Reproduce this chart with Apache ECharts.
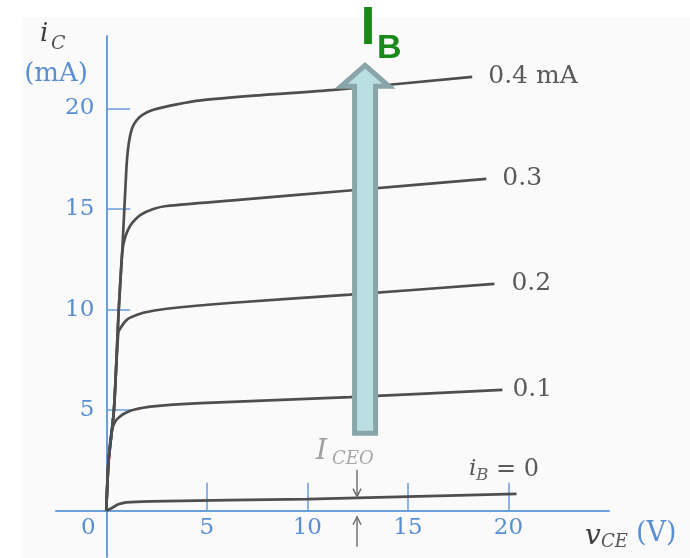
<!DOCTYPE html>
<html>
<head>
<meta charset="utf-8">
<script src="https://cdn.jsdelivr.net/npm/echarts@6/dist/echarts.min.js"></script>
<style>
  html, body { margin: 0; padding: 0; background: #ffffff; }
  #chart { width: 690px; height: 558px; }
</style>
</head>
<body>
<div id="chart"></div>
<script>
// Common-emitter collector characteristics: i_C (mA) against v_CE (V), one curve per base current.
const curveLabels = ['0.4 mA', '0.3', '0.2', '0.1'];

// [v_CE (V), i_C (mA)] points along each curve
const curveIB04 = [[0,0],[0.12,2.5],[0.38,5],[0.62,10],[0.8,13],[1.0,17],[1.11,18.2],[1.28,19.0],[1.5,19.4],[1.8,19.68],[2.34,19.93],[3.5,20.2],[4.7,20.4],[7.6,20.65],[11.3,20.92],[18.2,21.57]];
const curveIB03 = [[0,0],[0.12,2.5],[0.38,5],[0.62,10],[0.8,12.9],[0.94,13.6],[1.1,14.0],[1.28,14.3],[1.69,14.7],[2.34,15.0],[3.0,15.15],[6.3,15.43],[12.1,15.92],[18.9,16.5]];
const curveIB02 = [[0,0],[0.12,2.5],[0.38,5],[0.6,8.85],[0.75,9.15],[0.95,9.42],[1.19,9.6],[1.84,9.84],[3.0,10.04],[6.3,10.34],[12.1,10.74],[19.3,11.28]];
const curveIB01 = [[0,0],[0.1,2.4],[0.28,4.0],[0.45,4.45],[0.7,4.7],[1.0,4.88],[1.36,5.02],[2.2,5.18],[4.7,5.35],[12.1,5.65],[19.7,6.01]];
const curveIB00 = [[0,0],[0.3,0.15],[0.6,0.32],[1.0,0.42],[2.2,0.47],[10,0.58],[15,0.7],[20.4,0.84]];

const xTickValues = [5, 10, 15, 20];
const xLabelValues = [0, 5, 10, 15, 20];
const yTickValues = [5, 10, 15, 20];

// Annotation anchors in data units
const ibArrow = { v: 12.87, from: 3.85, to: 22.14 };       // base-current direction arrow
const iceoMark = { v: 12.47, top: 2.04, tip: 0.7, low: -1.79, lowTip: -0.3 };

const AXIS_BLUE = '#6a9fdc';
const LABEL_BLUE = '#5a8ed3';
const CURVE = '#4e4e4e';
const SERIF = '"DejaVu Serif", "Liberation Serif", serif';

const chart = echarts.init(document.getElementById('chart'), null, { renderer: 'canvas' });

function curveSeries(data, label, dist) {
  return {
    type: 'line',
    data: data,
    showSymbol: false,
    smooth: 0.25,
    lineStyle: { color: CURVE, width: 2.7 },
    emphasis: { disabled: true },
    silent: true,
    z: 3,
    endLabel: label ? {
      show: true,
      formatter: label,
      distance: dist,
      fontFamily: SERIF,
      fontSize: 25,
      color: '#5a5a5a'
    } : { show: false }
  };
}

chart.setOption({
  animation: false,
  backgroundColor: '#ffffff',
  grid: { left: 56, right: 81, top: 36, bottom: 1, outerBoundsMode: 'none', containLabel: false },
  xAxis: {
    type: 'value',
    min: -2.5,
    max: 25,
    axisLine: { onZero: true, lineStyle: { color: AXIS_BLUE, width: 2 } },
    axisTick: { show: true, inside: true, length: 28, customValues: xTickValues, lineStyle: { color: AXIS_BLUE, width: 1.5 } },
    axisLabel: {
      customValues: xLabelValues,
      margin: 6,
      fontFamily: SERIF,
      fontSize: 23,
      color: LABEL_BLUE,
      formatter: v => (v === 0 ? '{z|0}' : String(v)),
      rich: { z: { padding: [0, 36, 0, 0], fontFamily: SERIF, fontSize: 23, color: LABEL_BLUE } }
    },
    splitLine: { show: false }
  },
  yAxis: {
    type: 'value',
    min: -2.3,
    max: 23.6,
    axisLine: { onZero: true, lineStyle: { color: AXIS_BLUE, width: 2 } },
    axisTick: { show: true, inside: true, length: 24, customValues: yTickValues, lineStyle: { color: AXIS_BLUE, width: 1.5 } },
    axisLabel: {
      customValues: yTickValues,
      margin: 12,
      fontFamily: SERIF,
      fontSize: 23,
      color: LABEL_BLUE
    },
    splitLine: { show: false }
  },
  series: [
    curveSeries(curveIB04, curveLabels[0], 16),
    curveSeries(curveIB03, curveLabels[1], 16),
    curveSeries(curveIB02, curveLabels[2], 17),
    curveSeries(curveIB01, curveLabels[3], 10),
    curveSeries(curveIB00, null, 0)
  ]
});

function px(v, i) { return chart.convertToPixel({ gridIndex: 0 }, [v, i]); }

// Keep tick labels beside the axis lines that cross at the origin
const origin = px(0, 0);
const gridRect = chart.getModel().getComponent('grid', 0).coordinateSystem.getRect();
chart.setOption({
  xAxis: { axisLabel: { margin: 6 - (gridRect.y + gridRect.height - origin[1]) } },
  yAxis: { axisLabel: { margin: 12 - (origin[0] - gridRect.x) } }
});

function text(x, y, str, opts) {
  return {
    type: 'text', x: x, y: y, z: 50, silent: true,
    style: Object.assign({ text: str, fontFamily: SERIF, verticalAlign: 'middle', align: 'left' }, opts)
  };
}

// Big arrow showing the direction of increasing base current
const aTip = px(ibArrow.v, ibArrow.to);
const aBot = px(ibArrow.v, ibArrow.from);
const headBaseY = aTip[1] + 21;
const cx = aTip[0];
const shaftHalf = 10.5, headHalf = 24;
const arrowPoly = [
  [cx, aTip[1]],
  [cx + headHalf, headBaseY],
  [cx + shaftHalf, headBaseY],
  [cx + shaftHalf, aBot[1]],
  [cx - shaftHalf, aBot[1]],
  [cx - shaftHalf, headBaseY],
  [cx - headHalf, headBaseY]
];

// Small I_CEO pointer arrows
const d0 = px(iceoMark.v, iceoMark.top), d1 = px(iceoMark.v, iceoMark.tip);
const u0 = px(iceoMark.v, iceoMark.low), u1 = px(iceoMark.v, iceoMark.lowTip);
const arrowStyle = { stroke: '#6a6a6a', lineWidth: 1.4, fill: null };

chart.setOption({
  graphic: [
    { type: 'rect', z: -10, silent: true, shape: { x: 22, y: 17, width: 668, height: 541 }, style: { fill: '#f9faf9' } },
    { type: 'polygon', z: 40, silent: true, shape: { points: arrowPoly }, style: { fill: '#b9dfe3', stroke: '#89a5a8', lineWidth: 5, lineJoin: 'miter' } },
    // I_B label
    text(cx + 3, 29, 'I', { fontFamily: '"Liberation Sans", Arial, sans-serif', fontWeight: 'bold', fontSize: 54, fill: '#198a19', align: 'center' }),
    text(377, 49, 'B', { fontFamily: '"Liberation Sans", Arial, sans-serif', fontWeight: 'bold', fontSize: 34, fill: '#198a19' }),
    // axis titles
    text(40, 34, 'i', { fontStyle: 'italic', fontSize: 26, fill: '#3e3e3e' }),
    text(51, 44, 'C', { fontStyle: 'italic', fontSize: 19, fill: '#555555' }),
    text(56, 74, '(mA)', { fontSize: 26, fill: LABEL_BLUE, align: 'center' }),
    text(585, 537, 'v', { fontStyle: 'italic', fontSize: 28, fill: '#3e3e3e' }),
    text(601, 542, 'CE', { fontStyle: 'italic', fontSize: 18, fill: '#555555' }),
    text(636, 534, '(V)', { fontSize: 27, fill: LABEL_BLUE }),
    // i_B = 0 label
    text(469, 469, 'i', { fontStyle: 'italic', fontSize: 23, fill: '#555555' }),
    text(476, 476, 'B', { fontStyle: 'italic', fontSize: 17, fill: '#666666' }),
    text(496, 470, '= 0', { fontSize: 24, fill: '#5a5a5a' }),
    // I_CEO annotation
    text(316, 452, 'I', { fontStyle: 'italic', fontSize: 28, fill: '#a0a0a0' }),
    text(332, 459, 'CEO', { fontStyle: 'italic', fontSize: 18, fill: '#a8a8a8' }),
    { type: 'polyline', z: 45, silent: true, shape: { points: [d0, d1] }, style: arrowStyle },
    { type: 'polyline', z: 45, silent: true, shape: { points: [[d1[0] - 4, d1[1] - 8], d1, [d1[0] + 4, d1[1] - 8]] }, style: arrowStyle },
    { type: 'polyline', z: 45, silent: true, shape: { points: [u0, u1] }, style: arrowStyle },
    { type: 'polyline', z: 45, silent: true, shape: { points: [[u1[0] - 4, u1[1] + 8], u1, [u1[0] + 4, u1[1] + 8]] }, style: arrowStyle }
  ]
});
</script>
</body>
</html>
